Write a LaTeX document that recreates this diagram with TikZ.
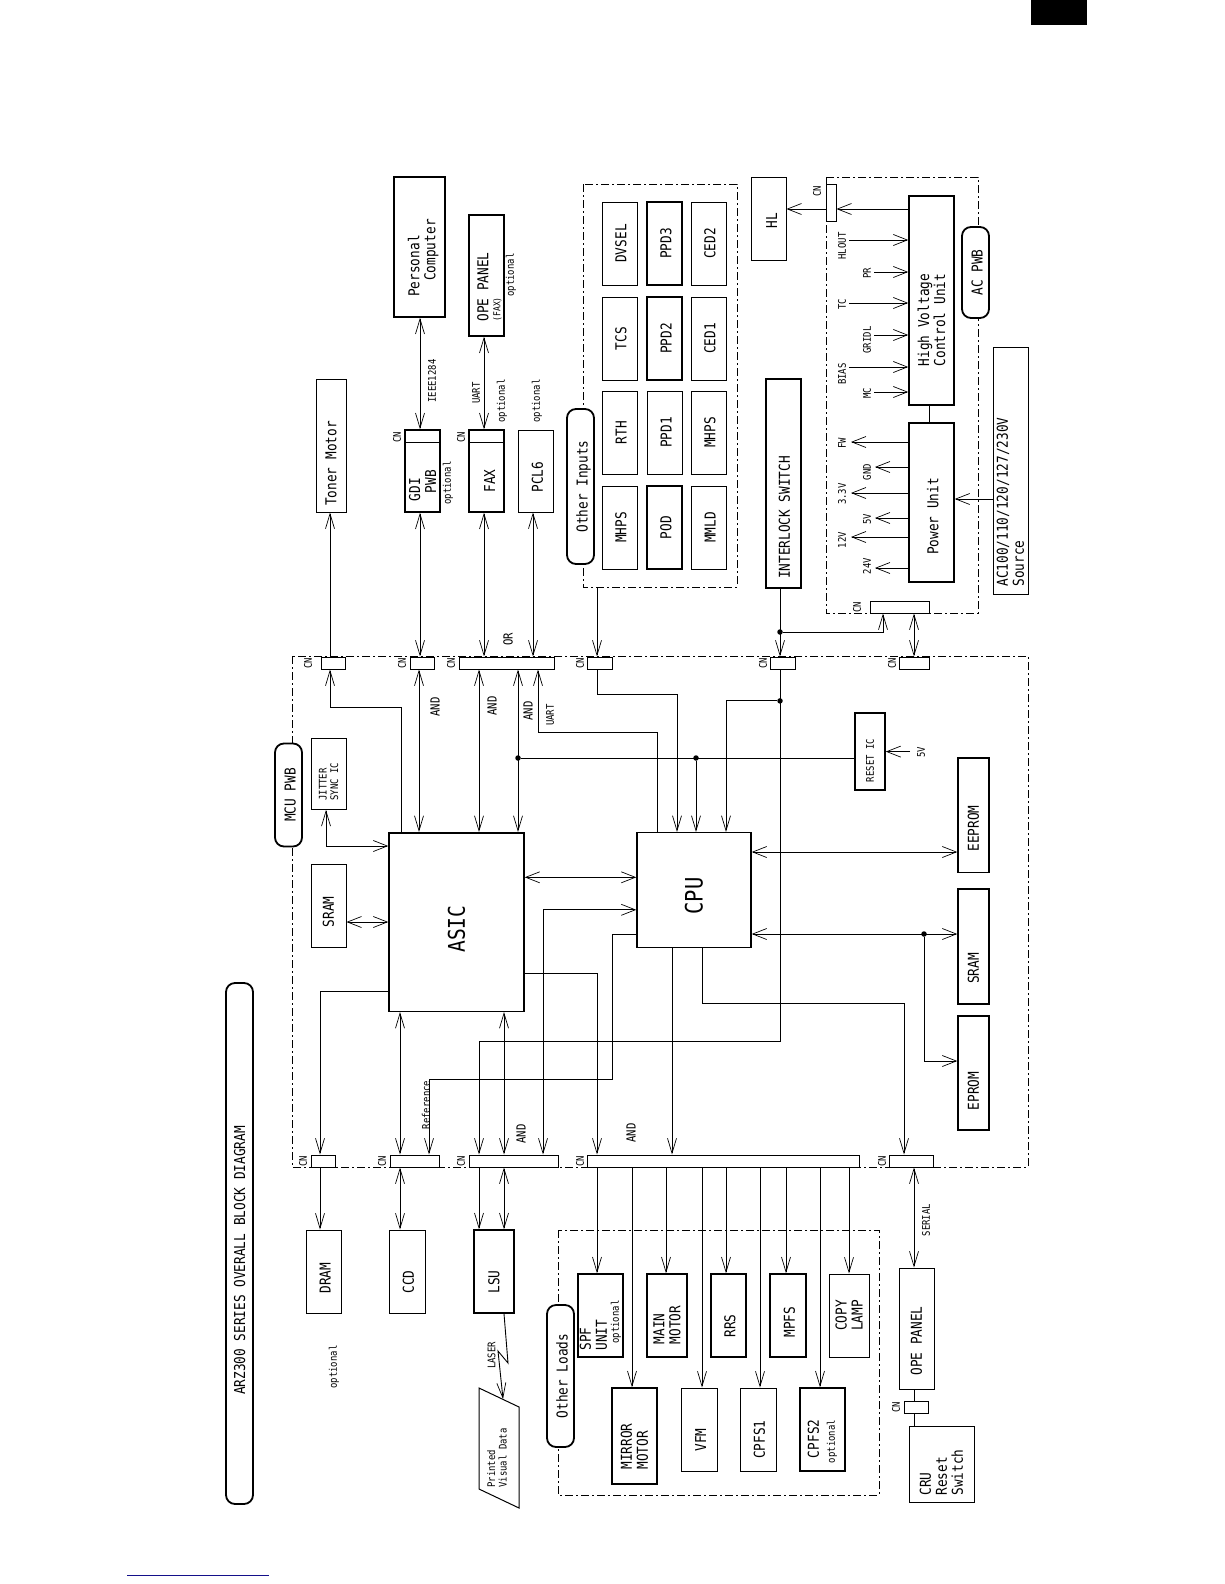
\documentclass[tikz,border=0pt]{standalone}
\usepackage{fontspec}
\setmainfont[FakeStretch=0.85]{DejaVu Sans Mono}
\usetikzlibrary{arrows.meta}
\newcommand{\fontL}{\fontsize{15}{16}\selectfont}
\newcommand{\fontX}{\fontsize{24}{26}\selectfont}
\newcommand{\fontM}{\fontsize{12.5}{14}\selectfont}
\newcommand{\fontS}{\fontsize{10.5}{11.5}\selectfont}
\newcommand{\fontT}{\fontsize{9.5}{11}\selectfont}
\definecolor{colNavy}{HTML}{14108A}
\tikzset{
  sz/.style 2 args={minimum height=#1, minimum width=#2},
  blk/.style={
    draw, rotate=90, inner sep=0pt, align=left,
    line width=1pt, font=\fontL, fill=white
  },
  hblk/.style={blk, line width=1.5pt},
  lift/.style={text height=#1},
  lift/.default=14pt,
  cnbox/.style={draw, rotate=90, inner sep=0pt, line width=1pt, fill=white},
  dbox/.style={
    draw, rotate=90, inner sep=0pt, line width=0.9pt,
    dash pattern=on 8pt off 3pt on 2pt off 3pt
  },
  pill/.style={
    draw, rotate=90, inner sep=0pt, rounded corners=9pt,
    line width=1.8pt, fill=white, font=\fontL,
    text height=17pt, text depth=3pt
  },
  txt/.style={rotate=90, inner sep=0pt, font=\fontS},
  andtxt/.style={txt, font=\fontM},
  jdot/.style={circle, fill=black, inner sep=0pt, minimum size=5.5pt},
  vtip/.tip={Straight Barb[length=15pt, width=9pt, line width=0.7pt]},
  htip/.tip={Straight Barb[length=14pt, width=11pt, line width=0.7pt]},
  conn/.style={line width=0.9pt},
  vone/.style={conn, -vtip},
  vboth/.style={conn, vtip-vtip},
  hone/.style={conn, -htip},
  hboth/.style={conn, htip-htip},
  vhboth/.style={conn, vtip-htip}
}
\begin{document}
\begin{tikzpicture}[x=1pt, y=-1pt]
  \useasboundingbox (0,0) rectangle (1224,1584);
  % page marks
  \fill[black] (1031,0) rectangle (1087,25);
  \draw[line width=1pt, draw=colNavy] (127,1575) -- (269,1575);

  % dashed boards
  \node[dbox, sz={736}{511}] (mcu) at (660,911.5) {};
  \node[dbox, sz={154}{403}] (inbox) at (660,385.5) {};
  \node[dbox, sz={152}{436}] (acbox) at (902,395) {};
  \node[dbox, sz={321}{265}] (loadbox) at (718.5,1362.5) {};

  % pills
  \node[pill, sz={27}{521}, text height=14pt] (title) at (239.5,1243.5) {ARZ300 SERIES OVERALL BLOCK DIAGRAM\hspace*{34pt}};
  \node[pill, sz={27}{103}] (mcupwb) at (288.5,795) {MCU PWB};
  \node[pill, sz={27}{155}] (otherin) at (580.5,486.5) {Other Inputs};
  \node[pill, sz={27}{91}] (acpwb) at (975.5,272.5) {AC PWB};
  \node[pill, sz={27}{142}] (otherload) at (560.5,1376) {Other Loads};

  % top row
  \node[hblk, sz={51}{140}] (pc) at (419.5,247) {\rule{0pt}{19pt}Personal\\\hspace*{16pt}Computer\hspace*{22pt}};
  \node[hblk, sz={35}{121}] (opefax) at (486.5,275.5) {\rule{0pt}{17pt}OPE PANEL\hspace*{23pt}\\[-4pt]{\fontT (FAX)}};
  \node[blk, sz={30}{133}] (toner) at (331,445.5) {Toner Motor\hspace*{36pt}};
  \node[hblk, sz={35}{82}] (gdi) at (422.5,471) {GDI\\\hspace*{8pt}PWB\hspace*{29pt}};
  \node[hblk, sz={35}{82}, lift=17pt] (fax) at (486.5,471) {FAX\hspace*{20pt}};
  \node[blk, sz={35}{82}, lift=15pt] (pclsix) at (535.5,471) {PCL6\hspace*{12pt}};
  \draw[conn] (gdi.north |- 0,442) -- (gdi.south |- 0,442);
  \draw[conn] (fax.north |- 0,442) -- (fax.south |- 0,442);

  % other inputs
  \node[blk, sz={35}{83}, lift] (dvsel) at (619.5,243.5) {DVSEL};
  \node[blk, sz={35}{83}, lift] (tcs) at (619.5,338.5) {TCS};
  \node[blk, sz={35}{83}, lift] (rth) at (619.5,432.5) {RTH};
  \node[blk, sz={35}{83}, lift] (mhpsa) at (619.5,527.5) {MHPS};
  \node[hblk, sz={35}{83}, lift] (ppdthree) at (664.5,243.5) {PPD3};
  \node[hblk, sz={35}{83}, lift] (ppdtwo) at (664.5,338.5) {PPD2};
  \node[blk, sz={35}{83}, lift] (ppdone) at (664.5,432.5) {PPD1};
  \node[hblk, sz={35}{83}, lift] (pod) at (664.5,527.5) {POD};
  \node[blk, sz={35}{83}, lift] (cedtwo) at (708.5,243.5) {CED2};
  \node[blk, sz={35}{83}, lift] (cedone) at (708.5,338.5) {CED1};
  \node[blk, sz={35}{83}, lift] (mhpsb) at (708.5,432.5) {MHPS};
  \node[blk, sz={35}{83}, lift] (mmld) at (708.5,527.5) {MMLD};

  % ac side
  \node[blk, sz={35}{83}, lift=17pt] (hl) at (768.5,218.5) {HL\hspace*{4pt}};
  \node[hblk, sz={35}{209}, lift=13pt] (interlock) at (783.5,483.5) {INTERLOCK SWITCH\hspace*{68pt}};
  \node[cnbox, sz={10}{37}] (cnhl) at (831,202.5) {};
  \node[hblk, sz={45}{209}] (hvcu) at (931.5,300.5) {High Voltage\hspace*{39pt}\\Control Unit\hspace*{39pt}};
  \node[hblk, sz={45}{159}, lift] (pwr) at (931.5,502.5) {Power Unit\hspace*{28pt}};
  \node[cnbox, sz={59}{12}] (cnpwr) at (899.5,607) {};
  \node[blk, sz={35}{247}] (source) at (1010.5,470.5) {AC100/110/120/127/230V\hspace*{63pt}\\Source};

  % mcu board
  \node[hblk, sz={135}{178.5}] (asic) at (456.5,922) {\fontsize{23}{25}\selectfont ASIC\hspace*{14pt}};
  \node[hblk, sz={114}{114.6}] (cpu) at (694,890) {\fontX CPU\hspace*{12pt}};
  \node[blk, sz={35}{71}, font=\fontS] (jitter) at (328.5,773.9) {JITTER\\SYNC IC\hspace*{16pt}};
  \node[blk, sz={35}{83}] (sramb) at (328.5,905.7) {SRAM\hspace*{12pt}};
  \node[hblk, sz={30}{77}, font=\fontS] (reset) at (870,751.6) {RESET IC\hspace*{18pt}};
  \node[hblk, sz={31}{114.5}] (eeprom) at (973.5,815) {EEPROM\hspace*{27pt}};
  \node[hblk, sz={31}{115}] (srama) at (973.5,946.5) {SRAM\hspace*{44pt}};
  \node[hblk, sz={31}{114}] (eprom) at (973.5,1073) {EPROM\hspace*{36pt}};

  % connectors on the board edge
  \node[cnbox, sz={24}{12}] (cntoner) at (333,663) {};
  \node[cnbox, sz={24}{12}] (cngdi) at (422,663) {};
  \node[cnbox, sz={95}{12}] (cnfax) at (506.5,663) {};
  \node[cnbox, sz={25}{12}] (cninp) at (599.5,663) {};
  \node[cnbox, sz={25}{12}] (cnint) at (782.5,663) {};
  \node[cnbox, sz={30}{12}] (cnac) at (914,663) {};
  \node[cnbox, sz={24}{12}] (cndram) at (323,1161) {};
  \node[cnbox, sz={49}{12}] (cnccd) at (414.5,1161) {};
  \node[cnbox, sz={89}{12}] (cnlsu) at (513.5,1161) {};
  \node[cnbox, sz={272}{12}] (cnbus) at (723,1161) {};
  \node[cnbox, sz={44}{12}] (cnope) at (911,1161) {};

  % bottom row
  \node[blk, sz={35}{83}, lift] (dram) at (323.5,1271.5) {DRAM\hspace*{13pt}};
  \node[blk, sz={36}{83}, lift] (ccd) at (407,1271.5) {CCD\hspace*{21pt}};
  \node[hblk, sz={40}{83}] (lsu) at (494,1271.5) {LSU\hspace*{21pt}};
  \node[hblk, sz={45}{83}] (spf) at (600.5,1315.5) {SPF\\UNIT\\[-4pt]\hspace*{7pt}{\fontS optional}\hspace*{20pt}};
  \node[hblk, sz={40}{83}] (mainm) at (667,1315.5) {MAIN\\MOTOR\hspace*{19pt}};
  \node[hblk, sz={35}{83}, lift] (rrs) at (728.5,1315.5) {RRS\hspace*{21pt}};
  \node[hblk, sz={36}{83}, lift] (mpfs) at (788,1315.5) {MPFS\hspace*{13pt}};
  \node[blk, sz={40}{83}] (copyl) at (849,1315.5) {COPY\\LAMP};
  \node[hblk, sz={45}{96}] (mirror) at (634.5,1436) {MIRROR\hspace*{21pt}\\MOTOR};
  \node[blk, sz={36}{83}, lift] (vfm) at (699,1429.5) {VFM\hspace*{21pt}};
  \node[blk, sz={36}{83}, lift] (cpfsa) at (758,1429.5) {CPFS1\hspace*{20pt}};
  \node[hblk, sz={45}{83}] (cpfsb) at (822.5,1429.5) {\hspace*{5pt}CPFS2\\{\fontS optional}\hspace*{24pt}};
  \node[blk, sz={35}{121}] (opepanel) at (916.5,1328.5) {OPE PANEL\hspace*{25pt}};
  \node[cnbox, sz={24}{12}] (cnopeb) at (916,1407) {};
  \node[blk, sz={65}{76}] (cru) at (941.5,1464) {CRU\\Reset\\Switch\hspace*{17pt}};
  \draw[line width=1pt] (479,1388) -- (519,1407) -- (519,1508) -- (479,1489) -- cycle;
  \node[txt, align=left] (printed) at (497,1458) {Printed\\Visual Data};

  % small texts
  \node[txt] (optgdi) at (448,483) {optional};
  \node[txt] (optope) at (511,275) {optional};
  \node[txt] (optfax) at (502,401) {optional};
  \node[txt] (optpcl) at (537,401) {optional};
  \node[txt] (optdram) at (334,1367) {optional};
  \node[txt] (ieee) at (432,381) {IEEE1284};
  \node[txt] (uarta) at (476,393) {UART};
  \node[andtxt] (ortxt) at (508,639.5) {OR};
  \node[txt] (uartb) at (550,715) {UART};
  \node[andtxt] (anda) at (435,707) {AND};
  \node[andtxt] (andb) at (492,706) {AND};
  \node[andtxt] (andc) at (528,711) {AND};
  \node[andtxt] (andd) at (521,1134) {AND};
  \node[andtxt] (ande) at (631,1133) {AND};
  \node[txt] (vfive) at (921,752.6) {5V};
  \node[txt] (reftxt) at (426,1105) {Reference};
  \node[txt] (lasertxt) at (491.5,1355.5) {LASER};
  \node[txt] (serial) at (926,1220) {SERIAL};
  \node[txt] (lhlout) at (842,246) {HLOUT};
  \node[txt] (lpr) at (867,273) {PR};
  \node[txt] (ltc) at (842,304) {TC};
  \node[txt] (lgridl) at (867,340) {GRIDL};
  \node[txt] (lbias) at (842,374) {BIAS};
  \node[txt] (lmc) at (867,393) {MC};
  \node[txt] (lfw) at (842,443) {FW};
  \node[txt] (lgnd) at (867,472) {GND};
  \node[txt] (lthree) at (842,494) {3.3V};
  \node[txt] (lfive) at (867,519) {5V};
  \node[txt] (ltwelve) at (842,540) {12V};
  \node[txt] (ltwentyfour) at (867,566) {24V};
  \node[txt] (cna) at (397,437) {CN};
  \node[txt] (cnb) at (461,437) {CN};
  \node[txt] (cnc) at (817,191) {CN};
  \node[txt] (cnd) at (857,607) {CN};
  \node[txt] (cne) at (308,663) {CN};
  \node[txt] (cnf) at (402,663) {CN};
  \node[txt] (cng) at (451,663) {CN};
  \node[txt] (cnh) at (580,663) {CN};
  \node[txt] (cni) at (763,663) {CN};
  \node[txt] (cnj) at (892,663) {CN};
  \node[txt] (cnk) at (303,1161) {CN};
  \node[txt] (cnl) at (382,1161) {CN};
  \node[txt] (cnm) at (461,1161) {CN};
  \node[txt] (cnn) at (580,1161) {CN};
  \node[txt] (cno) at (882,1161) {CN};
  \node[txt] (cnp) at (896,1407) {CN};

  % junctions and free ends
  \node[jdot] (jint) at (780,632) {};
  \node[jdot] (jcpu) at (780,700.9) {};
  \node[jdot] (jreset) at (518,758) {};
  \node[jdot] (jcpub) at (696,758) {};
  \node[jdot] (jsram) at (924,934) {};
  \coordinate (ehlout) at (849,240);
  \coordinate (epr) at (874,272);
  \coordinate (etc) at (849,303);
  \coordinate (egridl) at (874,335);
  \coordinate (ebias) at (849,367);
  \coordinate (emc) at (874,392);
  \coordinate (efw) at (851,442);
  \coordinate (egnd) at (875,467);
  \coordinate (ethree) at (851,493);
  \coordinate (efive) at (875,518);
  \coordinate (etwelve) at (851,537);
  \coordinate (etwentyfour) at (875,568);
  \coordinate (evfive) at (910,751.6);
  \coordinate (lza) at (508,1363);
  \coordinate (lzb) at (498,1351);
  \coordinate (pvd) at (503,1399);

  % outside the board, top
  \draw[vone] (330,0 |- cntoner.east) -- (330,0 |- toner.west);
  \draw[vboth] (420,0 |- pc.west) -- (420,0 |- gdi.east);
  \draw[vboth] (484,0 |- opefax.west) -- (484,0 |- fax.east);
  \draw[vboth] (420,0 |- gdi.west) -- (420,0 |- cngdi.east);
  \draw[vboth] (484,0 |- fax.west) -- (484,0 |- cnfax.east);
  \draw[vboth] (533,0 |- pclsix.west) -- (533,0 |- cnfax.east);
  \draw[vone] (597,0 |- inbox.west) -- (597,0 |- cninp.east);
  \draw[vone] (780,0 |- interlock.west) -- (780,0 |- cnint.east);
  \draw[vone] (jint) -| (883,0 |- cnpwr.west);
  \draw[vboth] (914,0 |- cnpwr.west) -- (914,0 |- cnac.east);

  % ac board
  \draw[hone] (hvcu.north |- 0,209) -- (cnhl.south |- 0,209);
  \draw[hone] (cnhl.north |- 0,209) -- (hl.south |- 0,209);
  \draw[conn] (929,0 |- hvcu.west) -- (929,0 |- pwr.east);
  \draw[hone] (ehlout) -- (ehlout -| hvcu.north);
  \draw[hone] (epr) -- (epr -| hvcu.north);
  \draw[hone] (etc) -- (etc -| hvcu.north);
  \draw[hone] (egridl) -- (egridl -| hvcu.north);
  \draw[hone] (ebias) -- (ebias -| hvcu.north);
  \draw[hone] (emc) -- (emc -| hvcu.north);
  \draw[hone] (efw -| pwr.north) -- (efw);
  \draw[hone] (egnd -| pwr.north) -- (egnd);
  \draw[hone] (ethree -| pwr.north) -- (ethree);
  \draw[hone] (efive -| pwr.north) -- (efive);
  \draw[hone] (etwelve -| pwr.north) -- (etwelve);
  \draw[hone] (etwentyfour -| pwr.north) -- (etwentyfour);
  \draw[hone] (source.north |- 0,499) -- (pwr.south |- 0,499);

  % mcu board, upper side
  \draw[vone] (401,0 |- asic.east) |- (330,707) -- (330,0 |- cntoner.west);
  \draw[vboth] (419,0 |- cngdi.west) -- (419,0 |- asic.east);
  \draw[vboth] (479,0 |- cnfax.west) -- (479,0 |- asic.east);
  \draw[vboth] (518,0 |- cnfax.west) -- (518,0 |- asic.east);
  \draw[vone] (657,0 |- cpu.east) |- (538,732.3) -- (538,0 |- cnfax.west);
  \draw[vone] (597,0 |- cninp.west) |- (677,694.8) -- (677,0 |- cpu.east);
  \draw[vone] (jcpu) -| (726,0 |- cpu.east);
  \draw[conn] (reset.north |- jreset) -- (jreset);
  \draw[vone] (jcpub) -- (jcpub |- cpu.east);
  \draw[hone] (evfive) -- (evfive -| reset.south);
  \draw[vhboth] (326,0 |- jitter.west) |- (asic.north |- 0,846);
  \draw[hboth] (sramb.south |- 0,922) -- (asic.north |- 0,922);
  \draw[hboth] (asic.south |- 0,877.3) -- (cpu.north |- 0,877.3);
  \draw[hboth] (cpu.south |- 0,852) -- (eeprom.north |- 0,852);
  \draw[hboth] (cpu.south |- 0,934) -- (srama.north |- 0,934);
  \draw[hone] (jsram) |- (eprom.north |- 0,1061);

  % mcu board, lower side
  \draw[vone] (asic.north |- 0,991) -| (320,0 |- cndram.east);
  \draw[vboth] (400,0 |- asic.west) -- (400,0 |- cnccd.east);
  \draw[vboth] (504,0 |- asic.west) -- (504,0 |- cnlsu.east);
  \draw[vone] (asic.south |- 0,973) -| (597,0 |- cnbus.east);
  \draw[vone] (780,0 |- cnint.west) |- (479,1041.6) -- (479,0 |- cnlsu.east);
  \draw[vone] (cpu.north |- 0,934) -| (612,1079) -| (429,0 |- cnccd.east);
  \draw[vhboth] (543,0 |- cnlsu.east) |- (cpu.north |- 0,909.8);
  \draw[vone] (672,0 |- cpu.west) -- (672,0 |- cnbus.east);
  \draw[vone] (702,0 |- cpu.west) |- (904,1003) -- (904,0 |- cnope.east);

  % below the board
  \draw[vone] (320,0 |- cndram.west) -- (320,0 |- dram.east);
  \draw[vboth] (400,0 |- cnccd.west) -- (400,0 |- ccd.east);
  \draw[vone] (479,0 |- cnlsu.west) -- (479,0 |- lsu.east);
  \draw[vboth] (504,0 |- cnlsu.west) -- (504,0 |- lsu.east);
  \draw[vone] (504,0 |- lsu.west) -- (lza) -- (lzb) -- (pvd);
  \draw[vone] (597,0 |- cnbus.west) -- (597,0 |- spf.east);
  \draw[vone] (632,0 |- cnbus.west) -- (632,0 |- mirror.east);
  \draw[vone] (666,0 |- cnbus.west) -- (666,0 |- mainm.east);
  \draw[vone] (702,0 |- cnbus.west) -- (702,0 |- vfm.east);
  \draw[vone] (726,0 |- cnbus.west) -- (726,0 |- rrs.east);
  \draw[vone] (760,0 |- cnbus.west) -- (760,0 |- cpfsa.east);
  \draw[vone] (786,0 |- cnbus.west) -- (786,0 |- mpfs.east);
  \draw[vone] (820,0 |- cnbus.west) -- (820,0 |- cpfsb.east);
  \draw[vone] (849,0 |- cnbus.west) -- (849,0 |- copyl.east);
  \draw[vboth] (914,0 |- cnope.west) -- (914,0 |- opepanel.east);
  \draw[conn] (914,0 |- opepanel.west) -- (914,0 |- cnopeb.east);
  \draw[conn] (914,0 |- cnopeb.west) -- (914,0 |- cru.east);
\end{tikzpicture}
\end{document}
